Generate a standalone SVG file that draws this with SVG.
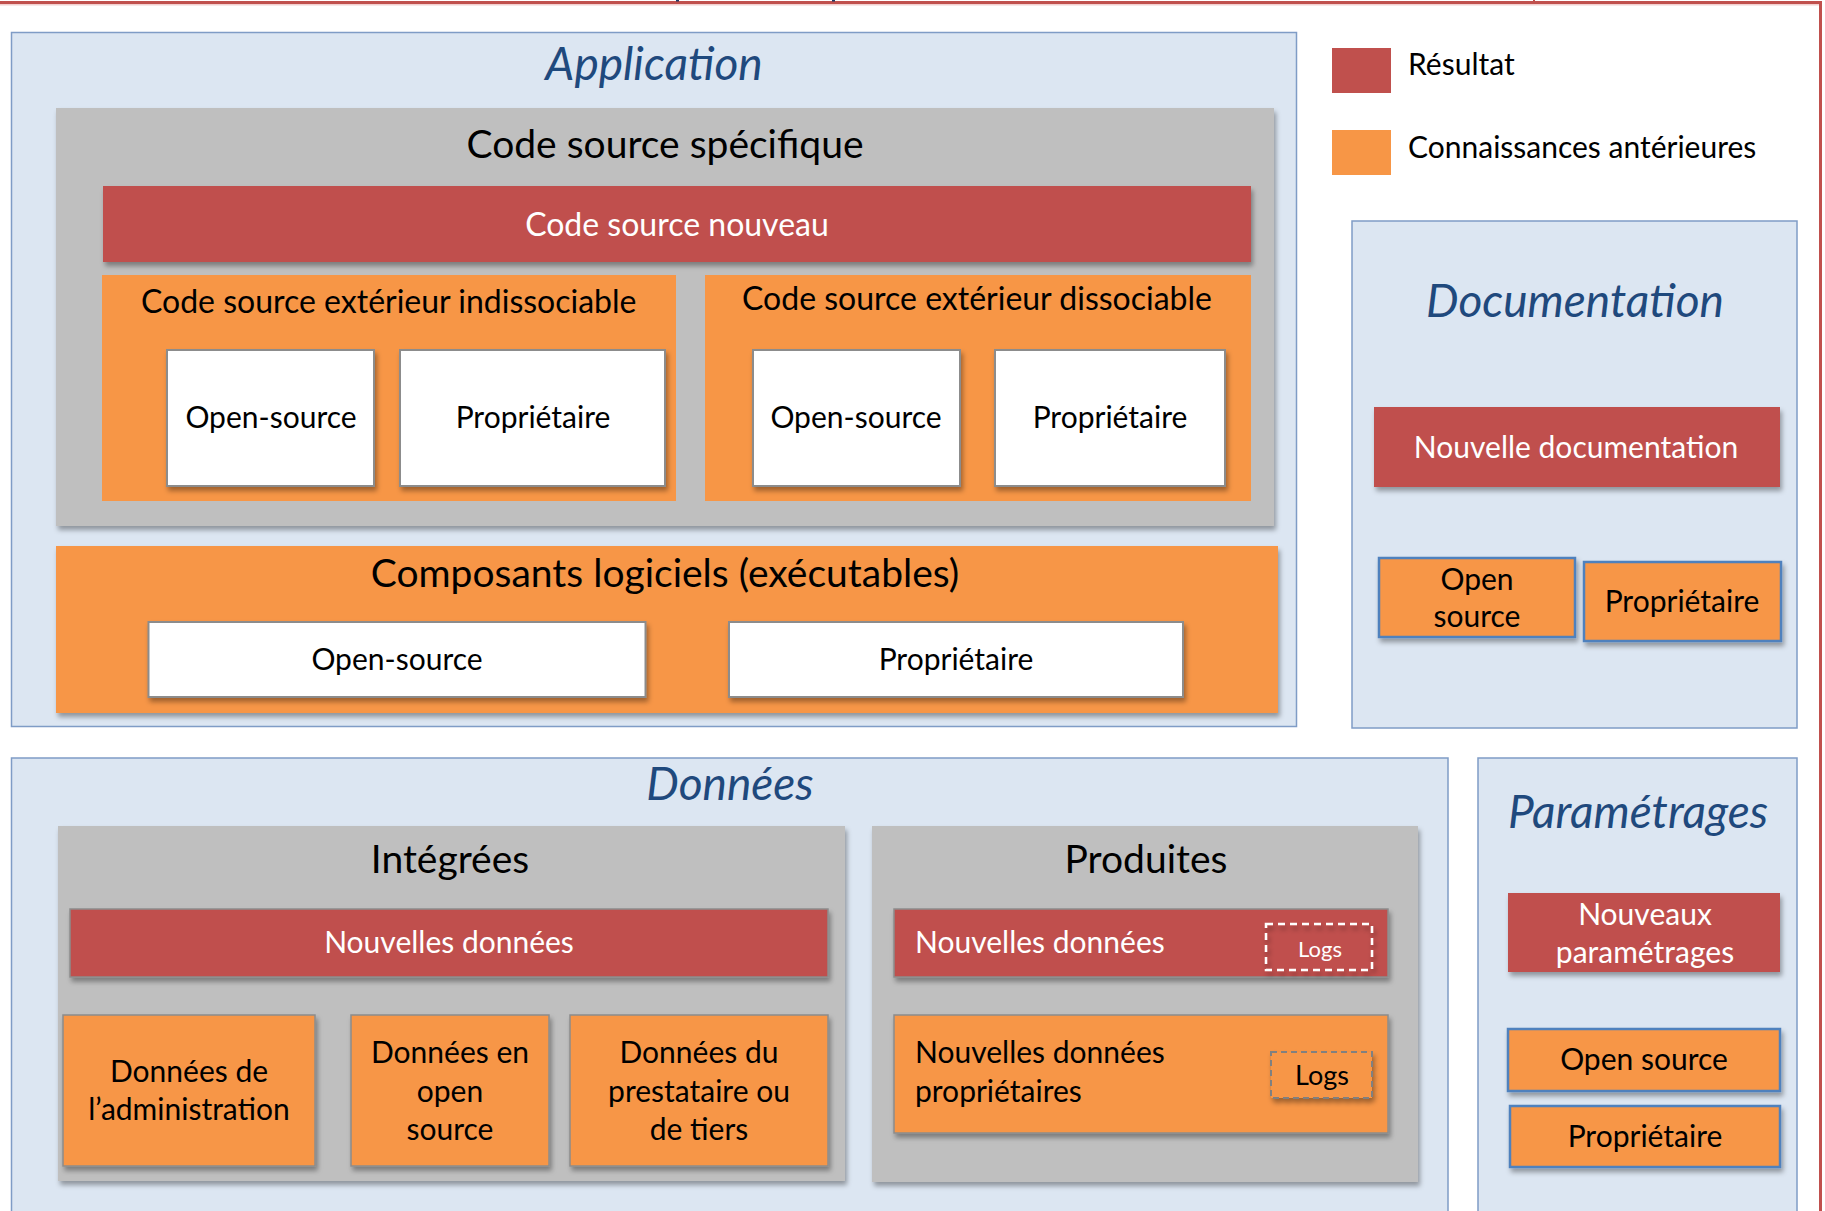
<svg xmlns="http://www.w3.org/2000/svg" width="1825" height="1211" viewBox="0 0 1825 1211">
  <defs>
    <filter id="shadow" x="-10%" y="-10%" width="120%" height="130%">
      <feDropShadow dx="2" dy="4" stdDeviation="2.5" flood-color="#000" flood-opacity="0.35"/>
    </filter>
  </defs>
  <style>
    text { font-family: Lato, "Liberation Sans", sans-serif; fill: #000; }
    .area { fill: #dce6f2; stroke: #7f9cc6; stroke-width: 1.5; }
    .title { font-size: 46px; font-style: italic; fill: #1f497d; text-anchor: middle; }
    .group { fill: #bfbfbf; filter: url(#shadow); }
    .head { font-size: 39px; text-anchor: middle; }
    .result { fill: #c0504d; filter: url(#shadow); }
    .resultEdge { fill: #c0504d; stroke: #8c8c8c; stroke-width: 1.5; filter: url(#shadow); }
    .prior { fill: #f79646; }
    .priorBox { fill: #f79646; stroke: #8c8c8c; stroke-width: 1.5; filter: url(#shadow); }
    .priorBlue { fill: #f79646; stroke: #4f81bd; stroke-width: 2.5; filter: url(#shadow); }
    .white { fill: #fff; stroke: #8c8c8c; stroke-width: 2; filter: url(#shadow); }
    .lbl { font-size: 30px; }
    .sub { font-size: 32px; }
    .mid { text-anchor: middle; }
    .inv { fill: #fff; }
    .frame { fill: #c0504d; }
  </style>

  <!-- outer frame edges -->
  <g id="frame">
    <rect class="frame" x="0" y="1" width="1822" height="3"/>
    <rect class="frame" x="1819" y="1" width="3" height="1210"/>
    <rect x="0" y="4" width="1819" height="1.5" fill="#f2d0cf"/>
    <rect class="frame" x="1533" y="0" width="2" height="2"/>
    <rect x="676" y="0" width="3" height="1.5" fill="#1f3864"/>
    <rect x="832" y="0" width="3" height="1.5" fill="#1f3864"/>
  </g>

  <!-- legend -->
  <g id="legend">
    <rect x="1332" y="48" width="59" height="45" fill="#c0504d"/>
    <text class="lbl" x="1408" y="75">Résultat</text>
    <rect x="1332" y="130" width="59" height="45" fill="#f79646"/>
    <text class="lbl" x="1408" y="158">Connaissances antérieures</text>
  </g>

  <!-- Application -->
  <g id="application">
    <rect class="area" x="11.5" y="32.5" width="1285" height="694"/>
    <text class="title" x="654" y="80">Application</text>
  </g>

  <g id="code-specifique">
    <rect class="group" x="56" y="108" width="1218" height="418"/>
    <text class="head" x="665" y="158">Code source spécifique</text>
  </g>

  <g id="code-nouveau">
    <rect class="result" x="103" y="186" width="1148" height="76"/>
    <text class="sub mid inv" x="677" y="236">Code source nouveau</text>
  </g>

  <g id="ext-indissociable">
    <rect class="prior" x="102" y="275" width="574" height="226"/>
    <text class="sub" x="141" y="313">Code source extérieur indissociable</text>
  </g>
  <g id="ext-indiss-open">
    <rect class="white" x="167" y="350" width="207" height="136"/>
    <text class="lbl mid" x="271" y="428">Open-source</text>
  </g>
  <g id="ext-indiss-prop">
    <rect class="white" x="400" y="350" width="265" height="136"/>
    <text class="lbl mid" x="533" y="428">Propriétaire</text>
  </g>

  <g id="ext-dissociable">
    <rect class="prior" x="705" y="275" width="546" height="226"/>
    <text class="sub mid" x="977" y="310">Code source extérieur dissociable</text>
  </g>
  <g id="ext-diss-open">
    <rect class="white" x="753" y="350" width="207" height="136"/>
    <text class="lbl mid" x="856" y="428">Open-source</text>
  </g>
  <g id="ext-diss-prop">
    <rect class="white" x="995" y="350" width="230" height="136"/>
    <text class="lbl mid" x="1110" y="428">Propriétaire</text>
  </g>

  <g id="composants">
    <rect class="prior" x="56" y="546" width="1222" height="167" filter="url(#shadow)"/>
    <text class="head" x="665" y="587">Composants logiciels (exécutables)</text>
  </g>
  <g id="comp-open">
    <rect class="white" x="148.5" y="622" width="497" height="75"/>
    <text class="lbl mid" x="397" y="670">Open-source</text>
  </g>
  <g id="comp-prop">
    <rect class="white" x="729" y="622" width="454" height="75"/>
    <text class="lbl mid" x="956" y="670">Propriétaire</text>
  </g>

  <!-- Documentation -->
  <g id="documentation">
    <rect class="area" x="1352" y="221" width="445" height="507"/>
    <text class="title" x="1575" y="317">Documentation</text>
  </g>
  <g id="doc-nouvelle">
    <rect class="result" x="1374" y="407" width="406" height="80"/>
    <text class="lbl mid inv" x="1576" y="458">Nouvelle documentation</text>
  </g>
  <g id="doc-open">
    <rect class="priorBlue" x="1379" y="558" width="196" height="79"/>
    <text class="lbl mid" x="1477" y="590">Open</text>
    <text class="lbl mid" x="1477" y="627">source</text>
  </g>
  <g id="doc-prop">
    <rect class="priorBlue" x="1584" y="562" width="197" height="79"/>
    <text class="lbl mid" x="1682" y="612">Propriétaire</text>
  </g>

  <!-- Données -->
  <g id="donnees">
    <rect class="area" x="11.5" y="758" width="1436.5" height="470"/>
    <text class="title" x="730" y="800">Données</text>
  </g>

  <g id="integrees">
    <rect class="group" x="58" y="826" width="787" height="355"/>
    <text class="head" x="450" y="873">Intégrées</text>
  </g>
  <g id="int-nouvelles">
    <rect class="resultEdge" x="70" y="909" width="758" height="68"/>
    <text class="lbl mid inv" x="449" y="953">Nouvelles données</text>
  </g>
  <g id="int-admin">
    <rect class="priorBox" x="63" y="1015" width="252" height="151"/>
    <text class="lbl mid" x="189" y="1082">Données de</text>
    <text class="lbl mid" x="189" y="1120">l’administration</text>
  </g>
  <g id="int-open">
    <rect class="priorBox" x="351" y="1015" width="198" height="151"/>
    <text class="lbl mid" x="450" y="1063">Données en</text>
    <text class="lbl mid" x="450" y="1102">open</text>
    <text class="lbl mid" x="450" y="1140">source</text>
  </g>
  <g id="int-tiers">
    <rect class="priorBox" x="570" y="1015" width="258" height="151"/>
    <text class="lbl mid" x="699" y="1063">Données du</text>
    <text class="lbl mid" x="699" y="1102">prestataire ou</text>
    <text class="lbl mid" x="699" y="1140">de tiers</text>
  </g>

  <g id="produites">
    <rect class="group" x="872" y="826" width="546" height="356"/>
    <text class="head" x="1146" y="873">Produites</text>
  </g>
  <g id="prod-nouvelles">
    <rect class="resultEdge" x="894" y="909" width="494" height="68"/>
    <text class="lbl inv" x="915" y="953">Nouvelles données</text>
  </g>
  <g id="prod-logs">
    <rect x="1266" y="924" width="106" height="46" fill="none" stroke="#fff" stroke-width="2.5" stroke-dasharray="7 5" filter="url(#shadow)"/>
    <text class="mid inv" x="1320" y="957" font-size="22">Logs</text>
  </g>
  <g id="prod-proprietaires">
    <rect class="priorBox" x="894" y="1015" width="494" height="118"/>
    <text class="lbl" x="915" y="1063">Nouvelles données</text>
    <text class="lbl" x="915" y="1102">propriétaires</text>
  </g>
  <g id="prod-prop-logs">
    <rect x="1271" y="1052" width="101" height="46" fill="#f79646" stroke="#808080" stroke-width="2" stroke-dasharray="6 4" filter="url(#shadow)"/>
    <text class="mid" x="1322" y="1085" font-size="27">Logs</text>
  </g>

  <!-- Paramétrages -->
  <g id="parametrages">
    <rect class="area" x="1478" y="758" width="319" height="470"/>
    <text class="title" x="1638" y="828" font-size="48">Paramétrages</text>
  </g>
  <g id="param-nouveaux">
    <rect class="result" x="1508" y="893" width="272" height="79"/>
    <text class="lbl mid inv" x="1645" y="925">Nouveaux</text>
    <text class="lbl mid inv" x="1645" y="963">paramétrages</text>
  </g>
  <g id="param-open">
    <rect class="priorBlue" x="1508" y="1029" width="272" height="62"/>
    <text class="lbl mid" x="1644" y="1070">Open source</text>
  </g>
  <g id="param-prop">
    <rect class="priorBlue" x="1510" y="1106" width="270" height="61"/>
    <text class="lbl mid" x="1645" y="1147">Propriétaire</text>
  </g>
</svg>
